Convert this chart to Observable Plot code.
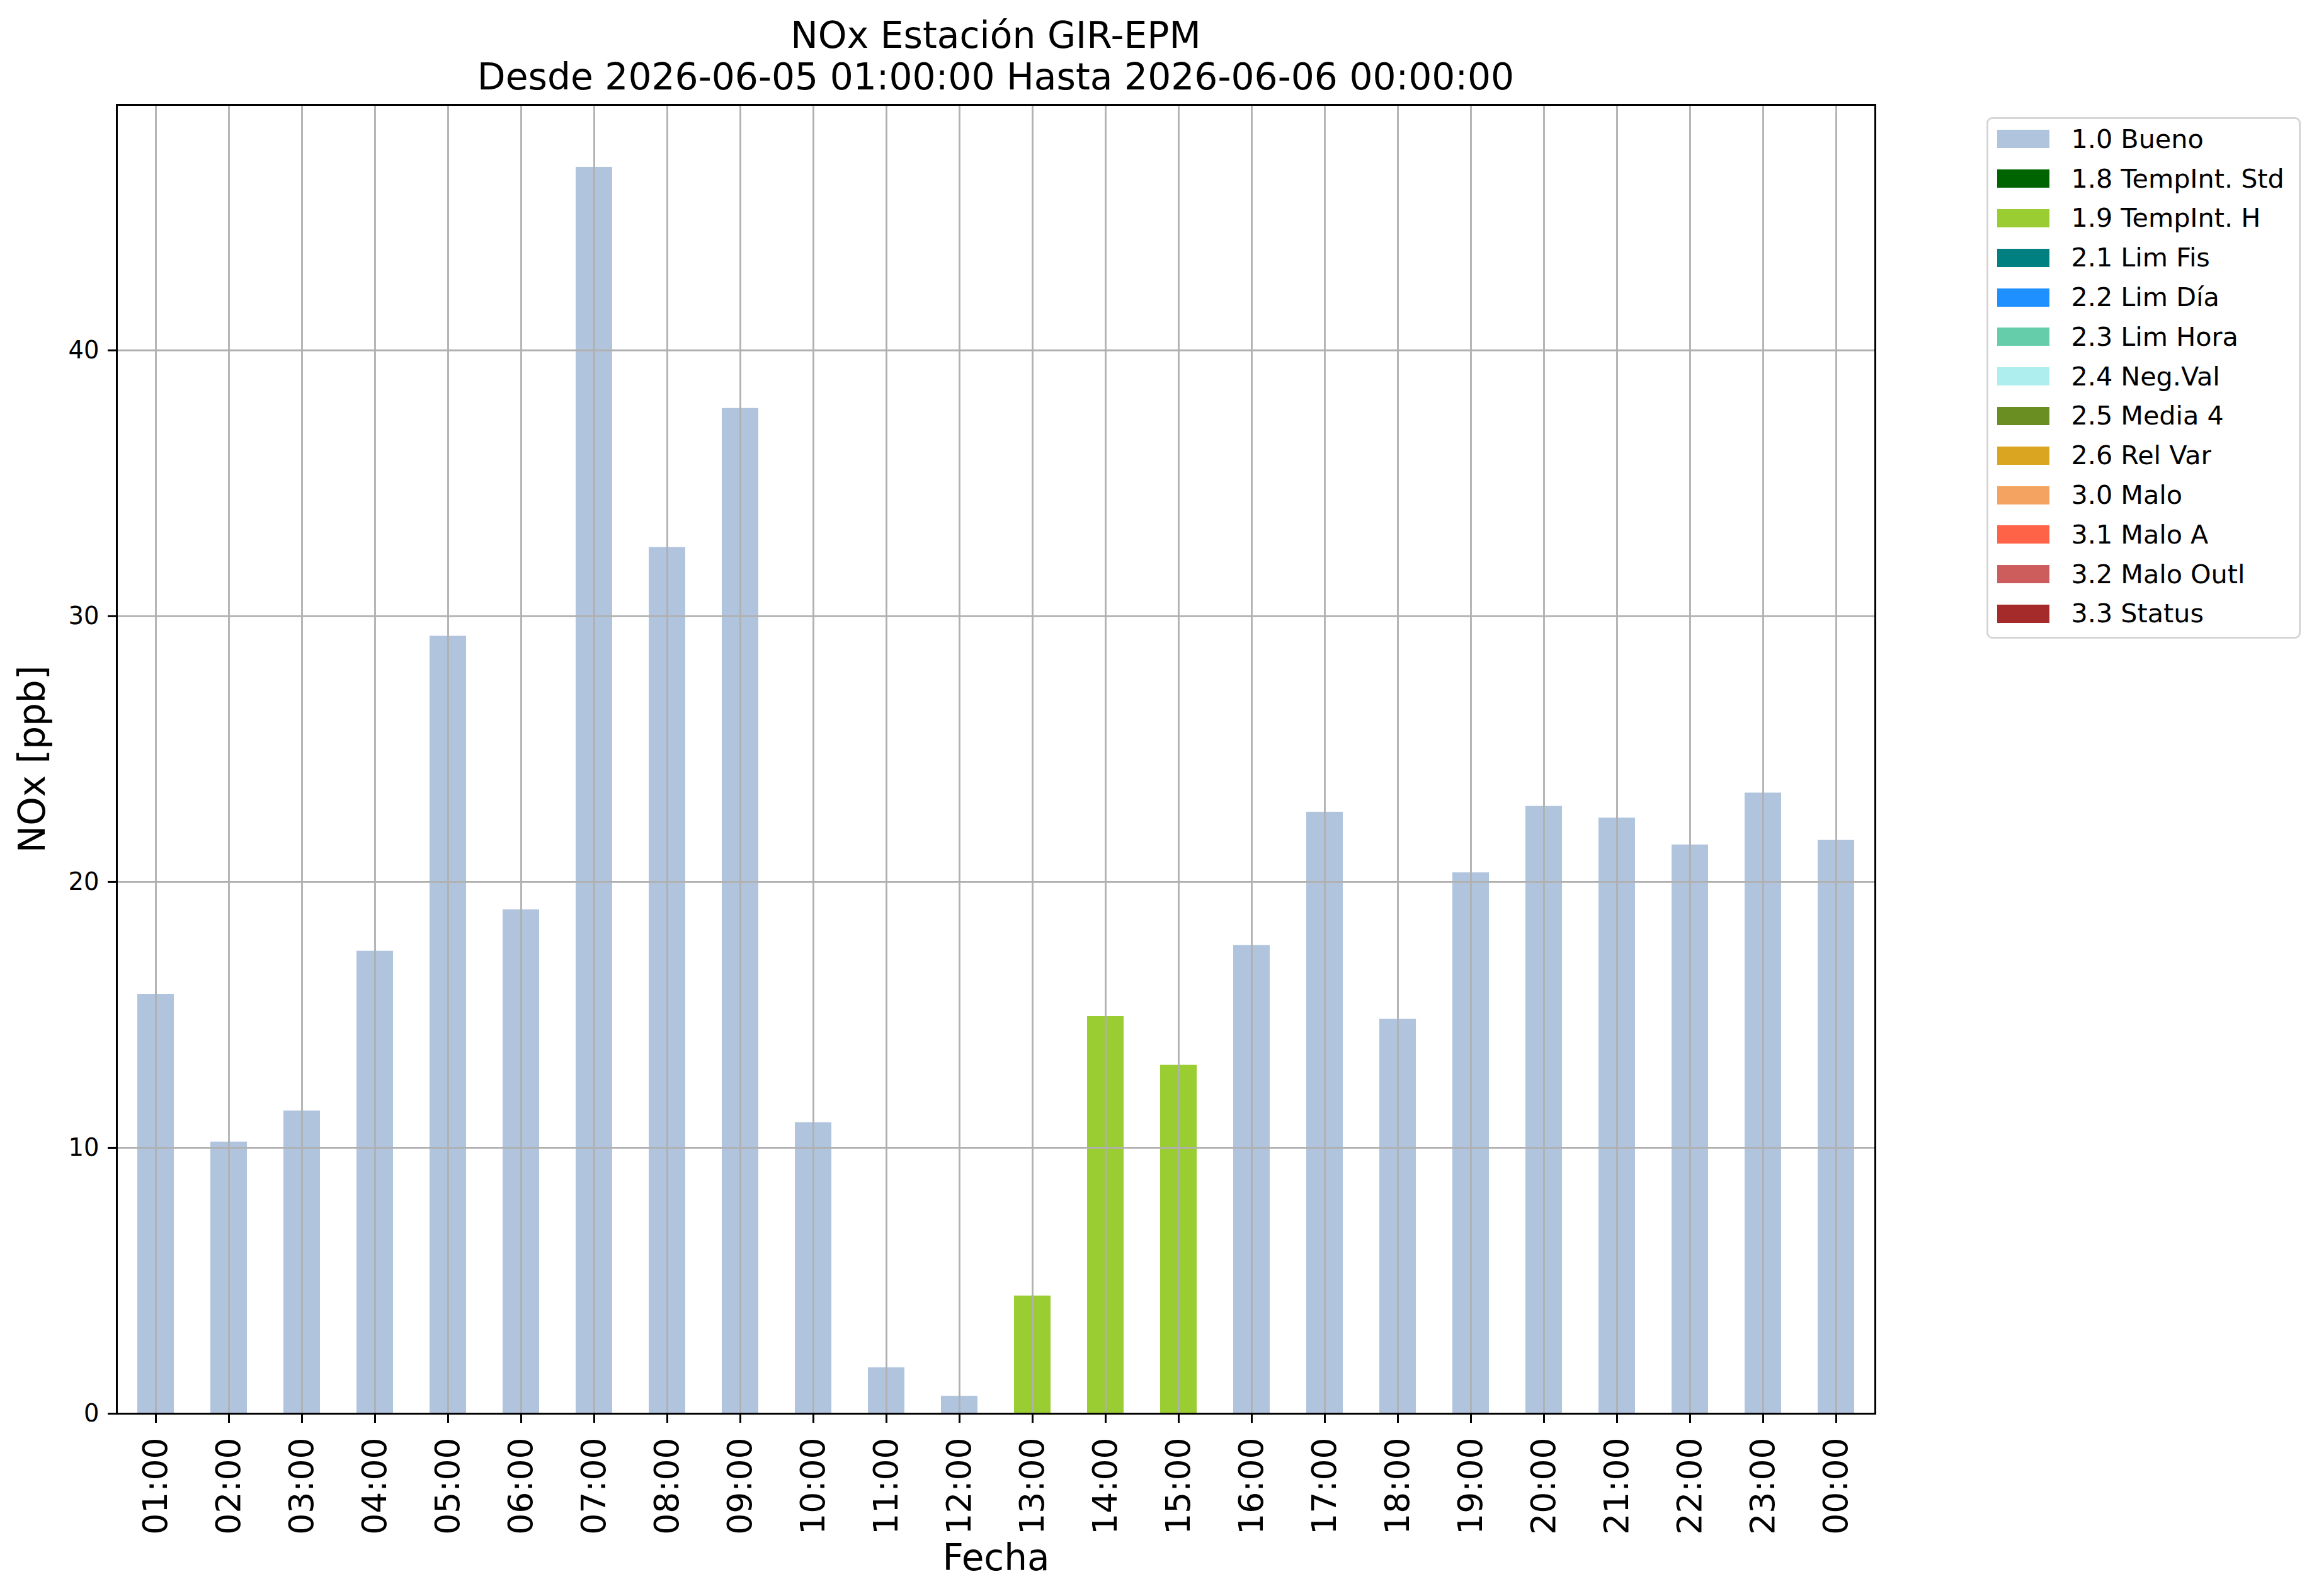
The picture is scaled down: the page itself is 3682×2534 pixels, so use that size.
<!DOCTYPE html>
<html>
<head>
<meta charset="utf-8">
<script src="https://cdn.jsdelivr.net/npm/d3@7"></script>
<script src="https://cdn.jsdelivr.net/npm/@observablehq/plot@0.6"></script>
<style>
  html, body { margin: 0; padding: 0; background: #fff; }
  #wrap { position: relative; width: 3682px; height: 2534px; font-family: "DejaVu Sans", sans-serif; color: #000; }
  #title { position: absolute; left: 185px; width: 2792px; top: 23px; text-align: center; font-size: 58.3px; line-height: 66px; white-space: nowrap; }
  #legend { position: absolute; left: 3154px; top: 186px; width: 499px; height: 828px; box-sizing: border-box;
            border: 3.8px solid #d6d6d6; border-radius: 9px; background: #fff; padding: 0.5px 0 0 13.5px; }
  .lg-swatches { margin: 0 !important; font-family: "DejaVu Sans", sans-serif !important; font-size: 41.3px !important; color: #000; }
  .lg-swatch { display: flex !important; align-items: center !important; height: 62.8px; padding: 0 !important; }
  .lg-swatch > svg { margin-right: 35px !important; }
</style>
</head>
<body>
<div id="wrap">
  <div id="title">NOx Estación GIR-EPM<br>Desde 2026-06-05 01:00:00 Hasta 2026-06-06 00:00:00</div>
  <div id="legend"></div>
</div>
<script>
// ---- data ----
const hours = ["01:00","02:00","03:00","04:00","05:00","06:00","07:00","08:00","09:00","10:00","11:00","12:00",
               "13:00","14:00","15:00","16:00","17:00","18:00","19:00","20:00","21:00","22:00","23:00","00:00"];
const nox = [15.78, 10.22, 11.39, 17.40, 29.25, 18.96, 46.89, 32.59, 37.82, 10.95, 1.73, 0.66,
             4.43, 14.95, 13.11, 17.62, 22.63, 14.84, 20.35, 22.85, 22.41, 21.40, 23.35, 21.57];
const flags = ["1.0 Bueno","1.0 Bueno","1.0 Bueno","1.0 Bueno","1.0 Bueno","1.0 Bueno","1.0 Bueno","1.0 Bueno",
               "1.0 Bueno","1.0 Bueno","1.0 Bueno","1.0 Bueno","1.9 TempInt. H","1.9 TempInt. H","1.9 TempInt. H",
               "1.0 Bueno","1.0 Bueno","1.0 Bueno","1.0 Bueno","1.0 Bueno","1.0 Bueno","1.0 Bueno","1.0 Bueno","1.0 Bueno"];
const flagLabels = ["1.0 Bueno","1.8 TempInt. Std","1.9 TempInt. H","2.1 Lim Fis","2.2 Lim Día","2.3 Lim Hora",
                    "2.4 Neg.Val","2.5 Media 4","2.6 Rel Var","3.0 Malo","3.1 Malo A","3.2 Malo Outl","3.3 Status"];
const flagColors = ["#b0c4de","#006400","#9acd32","#008080","#1e90ff","#66cdaa",
                    "#afeeee","#6b8e23","#daa520","#f4a460","#ff6347","#cd5c5c","#a52a2a"];
const yTicks = [0, 10, 20, 30, 40];

const data = hours.map((h, i) => ({hour: h, value: nox[i], flag: flags[i]}));
const yMax = d3.max(nox) * 1.05;

const chart = Plot.plot({
  width: 3682,
  height: 2534,
  marginTop: 166,
  marginBottom: 290,
  marginLeft: 185,
  marginRight: 705,
  style: {fontFamily: "DejaVu Sans, sans-serif", background: "transparent", color: "#000"},
  x: {type: "band", domain: hours, paddingInner: 0.5, paddingOuter: 0.25, label: null},
  y: {domain: [0, yMax], label: null},
  color: {domain: flagLabels, range: flagColors},
  marks: [
    Plot.barY(data, {x: "hour", y: "value", fill: "flag"}),
    Plot.ruleX(hours, {stroke: "#b0b0b0", strokeWidth: 2.8}),
    Plot.ruleY(yTicks, {stroke: "#b0b0b0", strokeWidth: 2.8}),
    Plot.frame({stroke: "#000", strokeWidth: 3}),
    Plot.axisX({tickRotate: -90, tickSize: 15, tickPadding: 23, fontSize: 53.5, strokeWidth: 3,
                lineAnchor: "middle", label: null}),
    Plot.axisX({ticks: [], tickSize: 0, label: "Fecha", labelAnchor: "center", labelArrow: "none", labelOffset: 248, fontSize: 58}),
    Plot.axisY({ticks: yTicks, tickSize: 14, tickPadding: 14, fontSize: 38.5, strokeWidth: 3, label: null}),
    Plot.axisY({ticks: [], tickSize: 0, label: "NOx [ppb]", labelAnchor: "center", labelArrow: "none", labelOffset: 156, fontSize: 58})
  ]
});
chart.style.position = "absolute";
chart.style.left = "0px";
chart.style.top = "0px";
document.getElementById("wrap").insertBefore(chart, document.getElementById("title"));

const leg = Plot.legend({
  color: {domain: flagLabels, range: flagColors},
  legend: "swatches",
  columns: 1,
  swatchWidth: 83,
  swatchHeight: 29,
  className: "lg"
});
document.getElementById("legend").appendChild(leg);
</script>
</body>
</html>
